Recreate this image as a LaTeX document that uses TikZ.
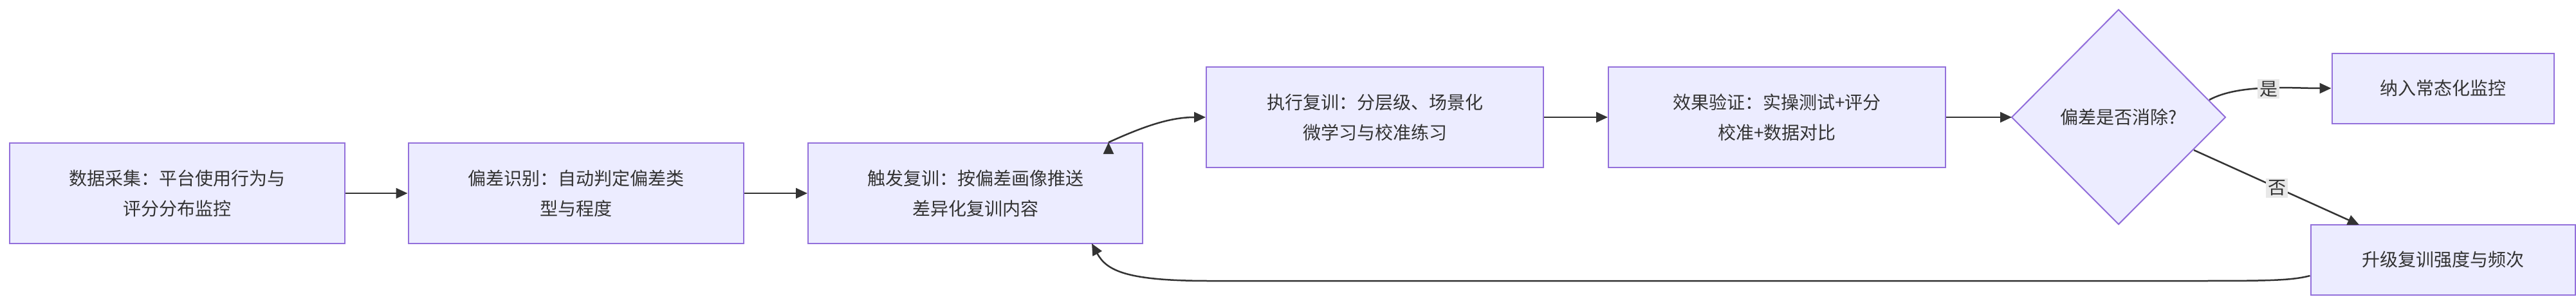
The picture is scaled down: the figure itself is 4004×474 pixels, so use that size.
\documentclass[tikz,border=0pt]{standalone}
\usepackage{fontspec}
\newfontfamily\cjk{Noto Sans CJK SC}
\usetikzlibrary{arrows.meta,shapes.geometric}
\definecolor{boxfill}{HTML}{ECECFF}
\definecolor{boxline}{HTML}{9370DB}
\definecolor{arr}{HTML}{333333}
\begin{document}
\begin{tikzpicture}[x=1pt,y=-1pt,
  box/.style={draw=boxline,line width=2pt,fill=boxfill,align=center,font=\cjk\fontsize{28}{47}\selectfont,text=arr,inner sep=0pt},
  con/.style={draw=arr,line width=2.5pt,-{Triangle[length=18pt,width=16pt]}},
  lbl/.style={fill=black!9,font=\cjk\fontsize{28}{34}\selectfont,text=arr,inner sep=3pt}]
\useasboundingbox (0,0) rectangle (4004,474);
\node[box,minimum width=521pt,minimum height=156pt] (a) at (275,300) {数据采集：平台使用行为与\\评分分布监控};
\node[box,minimum width=521pt,minimum height=156pt] (b) at (895,300) {偏差识别：自动判定偏差类\\型与程度};
\node[box,minimum width=520pt,minimum height=156pt] (c) at (1516,300) {触发复训：按偏差画像推送\\差异化复训内容};
\node[box,minimum width=524pt,minimum height=156pt] (d) at (2137,182) {执行复训：分层级、场景化\\微学习与校准练习};
\node[box,minimum width=524pt,minimum height=156pt] (e) at (2762,182) {效果验证：实操测试+评分\\校准+数据对比};
\node[diamond,draw=boxline,line width=2pt,fill=boxfill,aspect=0.98,inner sep=0pt,minimum width=332pt,minimum height=333pt,font=\cjk\fontsize{28}{34}\selectfont,text=arr,xscale=1,yscale=1] (f) at (3293,182) {};
\draw[boxline,line width=2pt,fill=boxfill] (3127,182) -- (3293,15) -- (3459,182) -- (3293,348) -- cycle;
\node[font=\cjk\fontsize{28}{34}\selectfont,text=arr] (ft) at (3293,182) {偏差是否消除?};
\node[box,minimum width=345pt,minimum height=109pt] (g) at (3797,137) {纳入常态化监控};
\node[box,minimum width=411pt,minimum height=109pt] (h) at (3797,403) {升级复训强度与频次};
\draw[con] (a) -- (b);
\draw[con] (b) -- (c);
\draw[con] (c.north east) ++(-54,0) coordinate (c1);
\draw[con] (c1) .. controls (1780,195) and (1820,182) .. (d.west);
\draw[con] (d) -- (e);
\draw[con] (e.east) -- (3127,182);
\coordinate (fy) at (3434,155);
\coordinate (fn) at (3410,233);
\draw[con] (fy) .. controls (3480,130) and (3560,137) .. (g.west);
\draw[con] (fn) -- (3667,349);
\coordinate (c2) at (1697,378);
\draw[con] (h.west|-0,428) .. controls (3560,436) and (3520,436) .. (3400,436) -- (1880,436) .. controls (1750,436) and (1720,420) .. (c2);
\node[lbl] at (3526,138) {是};
\node[lbl] at (3539,292) {否};
\end{tikzpicture}
\end{document}
